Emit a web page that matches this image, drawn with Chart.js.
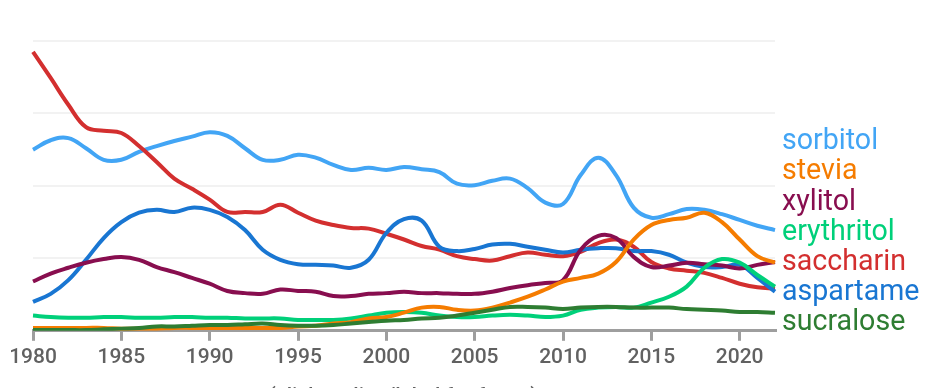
<!DOCTYPE html>
<html lang="en">
<head>
    <meta charset="UTF-8">
    <title>Sweeteners</title>
    <script src="https://cdn.jsdelivr.net/npm/chart.js"></script>
    <style>
        html, body { margin: 0; padding: 0; background: #fff; }
        .wrap { position: relative; width: 932px; height: 388px; overflow: hidden; }
    </style>
</head>
<body>
    <div class="wrap"><canvas id="chart" width="932" height="388"></canvas></div>

    <script>
        const years = [];
        for (let y = 1980; y <= 2022; y++) years.push(y);

        const sorbitol = [2.50, 2.63, 2.66, 2.52, 2.36, 2.36, 2.47, 2.55, 2.62, 2.68, 2.74, 2.69, 2.52, 2.36, 2.36, 2.43, 2.39, 2.29, 2.22, 2.25, 2.22, 2.26, 2.23, 2.19, 2.03, 2.01, 2.07, 2.10, 1.97, 1.77, 1.75, 2.15, 2.39, 2.15, 1.70, 1.56, 1.61, 1.68, 1.67, 1.61, 1.53, 1.45, 1.39];
        const stevia = [0.04, 0.04, 0.04, 0.04, 0.04, 0.03, 0.03, 0.03, 0.04, 0.04, 0.04, 0.04, 0.04, 0.04, 0.04, 0.06, 0.07, 0.10, 0.12, 0.17, 0.19, 0.25, 0.32, 0.33, 0.29, 0.28, 0.32, 0.39, 0.47, 0.57, 0.68, 0.73, 0.79, 0.95, 1.26, 1.46, 1.53, 1.56, 1.63, 1.50, 1.26, 1.03, 0.94];
        const xylitol = [0.68, 0.79, 0.87, 0.94, 0.99, 1.02, 0.98, 0.88, 0.81, 0.73, 0.65, 0.55, 0.52, 0.51, 0.57, 0.55, 0.54, 0.48, 0.48, 0.51, 0.52, 0.54, 0.52, 0.52, 0.51, 0.51, 0.54, 0.59, 0.63, 0.66, 0.70, 1.12, 1.31, 1.28, 1.02, 0.88, 0.90, 0.94, 0.92, 0.90, 0.86, 0.91, 0.95];
        const erythritol = [0.21, 0.19, 0.18, 0.18, 0.19, 0.19, 0.18, 0.18, 0.19, 0.19, 0.18, 0.18, 0.17, 0.17, 0.17, 0.15, 0.15, 0.15, 0.17, 0.21, 0.25, 0.26, 0.25, 0.21, 0.19, 0.19, 0.21, 0.22, 0.21, 0.19, 0.21, 0.29, 0.32, 0.33, 0.32, 0.39, 0.47, 0.61, 0.87, 0.99, 0.94, 0.77, 0.61];
        const saccharin = [3.85, 3.49, 3.12, 2.81, 2.76, 2.73, 2.55, 2.33, 2.10, 1.96, 1.81, 1.64, 1.64, 1.64, 1.74, 1.63, 1.52, 1.46, 1.42, 1.41, 1.34, 1.26, 1.17, 1.12, 1.03, 0.99, 0.97, 1.03, 1.08, 1.05, 1.03, 1.09, 1.21, 1.26, 1.16, 0.95, 0.86, 0.83, 0.80, 0.73, 0.65, 0.60, 0.58];
        const aspartame = [0.40, 0.51, 0.70, 0.98, 1.28, 1.50, 1.63, 1.67, 1.64, 1.70, 1.67, 1.57, 1.39, 1.12, 0.98, 0.92, 0.91, 0.90, 0.87, 0.98, 1.35, 1.54, 1.52, 1.16, 1.10, 1.13, 1.19, 1.20, 1.16, 1.12, 1.08, 1.12, 1.14, 1.14, 1.10, 1.10, 1.05, 0.94, 0.88, 0.88, 0.91, 0.73, 0.54];
        const sucralose = [0.01, 0.01, 0.01, 0.01, 0.02, 0.03, 0.04, 0.06, 0.06, 0.07, 0.08, 0.08, 0.09, 0.10, 0.08, 0.07, 0.07, 0.08, 0.10, 0.12, 0.14, 0.15, 0.17, 0.18, 0.21, 0.25, 0.29, 0.33, 0.33, 0.32, 0.30, 0.32, 0.33, 0.33, 0.32, 0.32, 0.32, 0.30, 0.29, 0.28, 0.26, 0.26, 0.25];

        const names = ['sorbitol', 'stevia', 'xylitol', 'erythritol', 'saccharin', 'aspartame', 'sucralose'];
        const colors = ['#42a5f5', '#f57c00', '#880e4f', '#00d07a', '#d32f2f', '#1976d2', '#2e7d32'];
        const series = [sorbitol, stevia, xylitol, erythritol, saccharin, aspartame, sucralose];
        // draw order: back to front
        const drawOrder = [6, 1, 3, 2, 5, 4, 0];

        const datasets = drawOrder.map(i => ({
            label: names[i],
            data: series[i],
            borderColor: colors[i],
            borderWidth: 4,
            pointRadius: 0,
            tension: 0.4,
            fill: false
        }));

        const sideLabels = {
            id: 'sideLabels',
            afterDraw(chart) {
                const ctx = chart.ctx;
                const area = chart.chartArea;
                ctx.save();
                ctx.font = '28.6px Roboto';
                ctx.textBaseline = 'middle';
                ctx.textAlign = 'left';
                names.forEach((n, i) => {
                    ctx.fillStyle = colors[i];
                    ctx.fillText(n, area.right + 7, 142 + i * 30.2);
                });
                ctx.font = '500 21px Roboto';
                ctx.fillStyle = '#616161';
                ctx.textAlign = 'center';
                ctx.textBaseline = 'alphabetic';
                ctx.fillText('(click on line/label for focus)', 403, 402);
                ctx.restore();
            }
        };

        new Chart(document.getElementById('chart'), {
            type: 'line',
            data: { labels: years, datasets: datasets },
            options: {
                responsive: false,
                animation: false,
                layout: { padding: { left: 33, right: 157, top: 41, bottom: 14 } },
                plugins: { legend: { display: false }, tooltip: { enabled: false } },
                scales: {
                    x: {
                        offset: false,
                        border: { display: true, color: '#9e9e9e', width: 3 },
                        grid: {
                            drawOnChartArea: false,
                            drawTicks: true,
                            tickLength: 10,
                            lineWidth: 3,
                            color: ctx => (years[ctx.index] % 5 === 0 ? '#9e9e9e' : 'rgba(0,0,0,0)')
                        },
                        ticks: {
                            autoSkip: false,
                            maxRotation: 0,
                            padding: 4,
                            color: '#616161',
                            font: { family: 'Roboto', size: 21, weight: '500' },
                            callback: function (val, idx) {
                                return years[idx] % 5 === 0 ? String(years[idx]) : '';
                            }
                        }
                    },
                    y: {
                        min: 0,
                        max: 4,
                        border: { display: false },
                        grid: { color: '#f2f2f2', lineWidth: 2, drawTicks: false },
                        ticks: { display: false, stepSize: 1 }
                    }
                }
            },
            plugins: [sideLabels]
        });
    </script>
</body>
</html>
